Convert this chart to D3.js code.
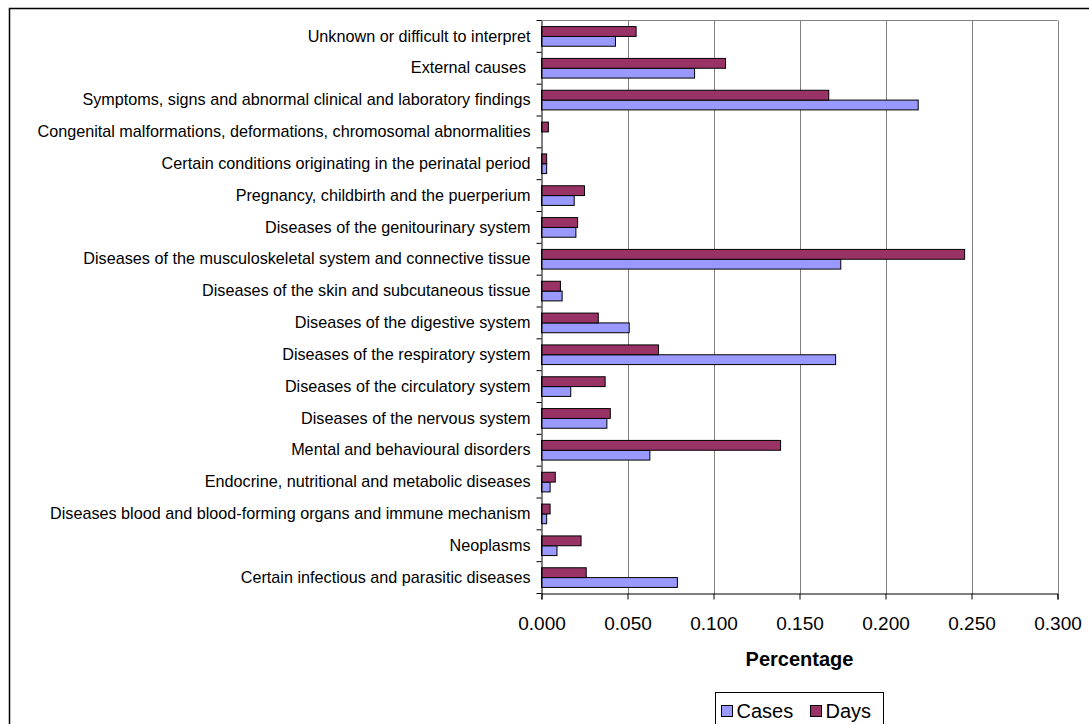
<!DOCTYPE html>
<html>
<head>
<meta charset="utf-8">
<script src="https://cdn.jsdelivr.net/npm/d3@7"></script>
<style>
  body { margin: 0; background: #fff; }
  text { font-family: "Liberation Sans", Arial, sans-serif; fill: #000; }
</style>
</head>
<body>
<svg id="chart" width="1089" height="724"></svg>
<script>
// categories listed top to bottom as they appear on the chart
const categories = [
  "Unknown or difficult to interpret",
  "External causes ",
  "Symptoms, signs and abnormal clinical and laboratory findings",
  "Congenital malformations, deformations, chromosomal abnormalities",
  "Certain conditions originating in the perinatal period",
  "Pregnancy, childbirth and the puerperium",
  "Diseases of the genitourinary system",
  "Diseases of the musculoskeletal system and connective tissue",
  "Diseases of the skin and subcutaneous tissue",
  "Diseases of the digestive system",
  "Diseases of the respiratory system",
  "Diseases of the circulatory system",
  "Diseases of the nervous system",
  "Mental and behavioural disorders",
  "Endocrine, nutritional and metabolic diseases",
  "Diseases blood and blood-forming organs and immune mechanism",
  "Neoplasms",
  "Certain infectious and parasitic diseases"
];
const cases = [0.043, 0.089, 0.219, 0.000, 0.003, 0.019, 0.020, 0.174, 0.012, 0.051,
               0.171, 0.017, 0.038, 0.063, 0.005, 0.003, 0.009, 0.079];
const days  = [0.055, 0.107, 0.167, 0.004, 0.003, 0.025, 0.021, 0.246, 0.011, 0.033,
               0.068, 0.037, 0.040, 0.139, 0.008, 0.005, 0.023, 0.026];
const xTicks = [0, 0.05, 0.1, 0.15, 0.2, 0.25, 0.3];
const seriesNames = ["Cases", "Days"];
const seriesColors = { Cases: "#9999FF", Days: "#993366" };

const svg = d3.select("#chart");

// outer chart border (runs off the right and bottom of the picture)
svg.append("rect")
  .attr("x", 9.5).attr("y", 8.5)
  .attr("width", 1200).attr("height", 800)
  .attr("fill", "none").attr("stroke", "#000").attr("stroke-width", 1.5);

const plot = { left: 541.5, right: 1057.5, top: 20.5, bottom: 593.5 };

const x = d3.scaleLinear().domain([0, 0.3]).range([plot.left, plot.right]);
const y = d3.scaleBand().domain(categories).range([plot.top, plot.bottom]).padding(0);
const ySub = d3.scaleBand().domain(["Days", "Cases"]).range([0, y.bandwidth()])
  .paddingInner(0).paddingOuter(0.62);

// gridlines
svg.append("g").selectAll("line")
  .data(xTicks.slice(1))
  .join("line")
  .attr("x1", d => Math.round(x(d)) + 0.5).attr("x2", d => Math.round(x(d)) + 0.5)
  .attr("y1", plot.top).attr("y2", plot.bottom)
  .attr("stroke", "#808080");

// plot area top border
svg.append("line")
  .attr("x1", plot.left).attr("x2", plot.right)
  .attr("y1", plot.top).attr("y2", plot.top)
  .attr("stroke", "#808080");

// bars
const rows = categories.map((c, i) => ({ cat: c, Cases: cases[i], Days: days[i] }));
const groups = svg.append("g").selectAll("g")
  .data(rows)
  .join("g")
  .attr("transform", d => `translate(0,${y(d.cat)})`);

groups.selectAll("rect")
  .data(d => seriesNames.map(s => ({ s, v: d[s] })))
  .join("rect")
  .attr("x", plot.left)
  .attr("y", d => ySub(d.s))
  .attr("width", d => x(d.v) - plot.left)
  .attr("height", ySub.bandwidth())
  .attr("fill", d => seriesColors[d.s])
  .attr("stroke", "#000")
  .attr("stroke-width", 1);

// left axis: category labels
const yAxis = svg.append("g")
  .attr("transform", `translate(${plot.left},0)`)
  .call(d3.axisLeft(y).tickSize(0).tickPadding(11));
yAxis.select(".domain").attr("stroke", "#000");
yAxis.selectAll("text")
  .style("font-size", "16.2px")
  .style("white-space", "pre");

// category boundary ticks
svg.append("g").selectAll("line")
  .data(categories.concat(["__end"]))
  .join("line")
  .attr("x1", plot.left - 5).attr("x2", plot.left)
  .attr("y1", d => d === "__end" ? plot.bottom : y(d))
  .attr("y2", d => d === "__end" ? plot.bottom : y(d))
  .attr("stroke", "#000");

// bottom axis
const xAxis = svg.append("g")
  .attr("transform", `translate(0,${plot.bottom})`)
  .call(d3.axisBottom(x).tickValues(xTicks).tickFormat(d3.format(".3f")).tickSize(6).tickPadding(17));
xAxis.select(".domain").attr("stroke", "#000");
xAxis.selectAll("line").attr("stroke", "#000");
xAxis.selectAll("text").style("font-size", "19px");

svg.append("text")
  .attr("x", (plot.left + plot.right) / 2)
  .attr("y", 666)
  .attr("text-anchor", "middle")
  .style("font-size", "20px")
  .style("font-weight", "bold")
  .text("Percentage");

// legend
const legend = svg.append("g");
legend.append("rect")
  .attr("x", 715.5).attr("y", 692.5)
  .attr("width", 168).attr("height", 60)
  .attr("fill", "#fff").attr("stroke", "#000");

const legendX = [721.5, 810.5];
seriesNames.forEach((s, i) => {
  legend.append("rect")
    .attr("x", legendX[i]).attr("y", 705.5)
    .attr("width", 11).attr("height", 11)
    .attr("fill", seriesColors[s]).attr("stroke", "#000");
  legend.append("text")
    .attr("x", legendX[i] + 15).attr("y", 718)
    .style("font-size", "20px")
    .text(s);
});
</script>
</body>
</html>
